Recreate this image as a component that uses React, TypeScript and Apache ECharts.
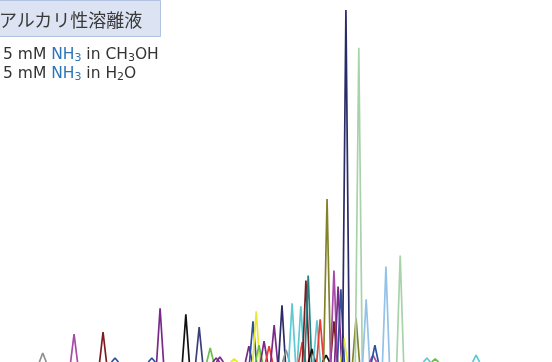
import React, { useEffect, useRef } from "react";
import * as echarts from "echarts";

// Retention time (min), peak height (signal units) and MRM channel of each peak.
const retentionTimes = [
  0.93, 1.61, 2.24, 2.5, 3.3, 3.48, 4.04, 4.33, 4.57, 4.7, 4.78, 5.09, 5.41,
  5.5, 5.57, 5.63, 5.74, 5.85, 5.96, 6.13, 6.22, 6.35, 6.54, 6.57, 6.65, 6.7,
  6.78, 6.89, 6.96, 7.09, 7.11, 7.26, 7.26, 7.35, 7.41, 7.48, 7.52, 7.74, 7.8,
  7.96, 8.11, 8.15, 8.39, 8.7, 9.28, 9.46, 10.35,
];
const peakHeights = [
  45, 140, 150, 20, 20, 270, 240, 175, 70, 20, 25, 15, 80,
  205, 255, 85, 105, 80, 185, 285, 60, 295, 280, 100, 410, 435,
  65, 210, 215, 35, 820, 205, 460, 380, 365, 120, 1770, 220, 1580,
  315, 35, 85, 480, 535, 20, 15, 35,
];
const peakChannels = [
  0, 1, 2, 3, 3, 4, 5, 6, 7, 4, 4, 8, 4,
  3, 8, 7, 4, 9, 4, 10, 0, 11, 11, 9, 2, 12,
  5, 11, 9, 5, 13, 2, 1, 4, 3, 8, 10, 13, 14,
  15, 1, 3, 15, 14, 11, 7, 11,
];

// Trace colour per channel.
const channelColors = [
  "#8f8f8f", "#a84aa8", "#7d1d22", "#2f4f9f", "#782a88", "#111111",
  "#3d3d7a", "#6cc04a", "#e8e838", "#ea3a34", "#2b2b68", "#5ec9d3",
  "#23837f", "#83822c", "#a8d2aa", "#94c1e8",
];

const PEAK_HALF_WIDTH = 0.075; // min
const TITLE = "アルカリ性溶離液";
const LATIN = '"DejaVu Sans", sans-serif';
const CJK = '"Noto Sans CJK JP", sans-serif';

export default function App() {
  const ref = useRef<HTMLDivElement>(null);

  useEffect(() => {
    document.body.style.margin = "0";
    if (!ref.current) return;
    const chart = echarts.init(ref.current, undefined, { renderer: "svg" });

    const series = retentionTimes.map((rt, i) => ({
      type: "line" as const,
      silent: true,
      showSymbol: false,
      symbol: "none",
      data: [
        [rt - PEAK_HALF_WIDTH, 0],
        [rt, peakHeights[i]],
        [rt + PEAK_HALF_WIDTH, 0],
      ],
      lineStyle: { color: channelColors[peakChannels[i]], width: 1.7 },
      z: 2,
    }));

    const t = { fontSize: 15.5, fontFamily: LATIN, fill: "#333333", lineHeight: 19 };
    const b = { ...t, fill: "#2e75b6" };
    const s = { fontSize: 11, fontFamily: LATIN, fill: "#333333", lineHeight: 12, verticalAlign: "bottom" };
    const bs = { ...s, fill: "#2e75b6" };

    chart.setOption({
      animation: false,
      grid: { left: 0, right: 0, top: 0, bottom: -2 },
      xAxis: { type: "value", min: 0, max: 12, show: false },
      yAxis: { type: "value", min: 0, max: 1820, show: false },
      series,
      graphic: [
        {
          type: "rect",
          shape: { x: -10, y: 0.5, width: 170.5, height: 36 },
          style: { fill: "#dce3f2", stroke: "#b1c1e2", lineWidth: 1 },
        },
        {
          type: "text",
          x: -1,
          y: 19,
          style: {
            text: TITLE,
            font: `18px ${CJK}`,
            fill: "#3a3a3a",
            verticalAlign: "middle",
          },
        },
        {
          type: "text",
          x: 3,
          y: 44,
          style: {
            text:
              "{t|5 mM }{b|NH}{bs|3}{t| in CH}{s|3}{t|OH}\n" +
              "{t|5 mM }{b|NH}{bs|3}{t| in H}{s|2}{t|O}",
            verticalAlign: "top",
            rich: { t, b, s, bs },
          },
        },
      ],
    });

    return () => chart.dispose();
  }, []);

  return (
    <div
      ref={ref}
      style={{ position: "fixed", left: 0, top: 0, width: 552, height: 362 }}
    />
  );
}
